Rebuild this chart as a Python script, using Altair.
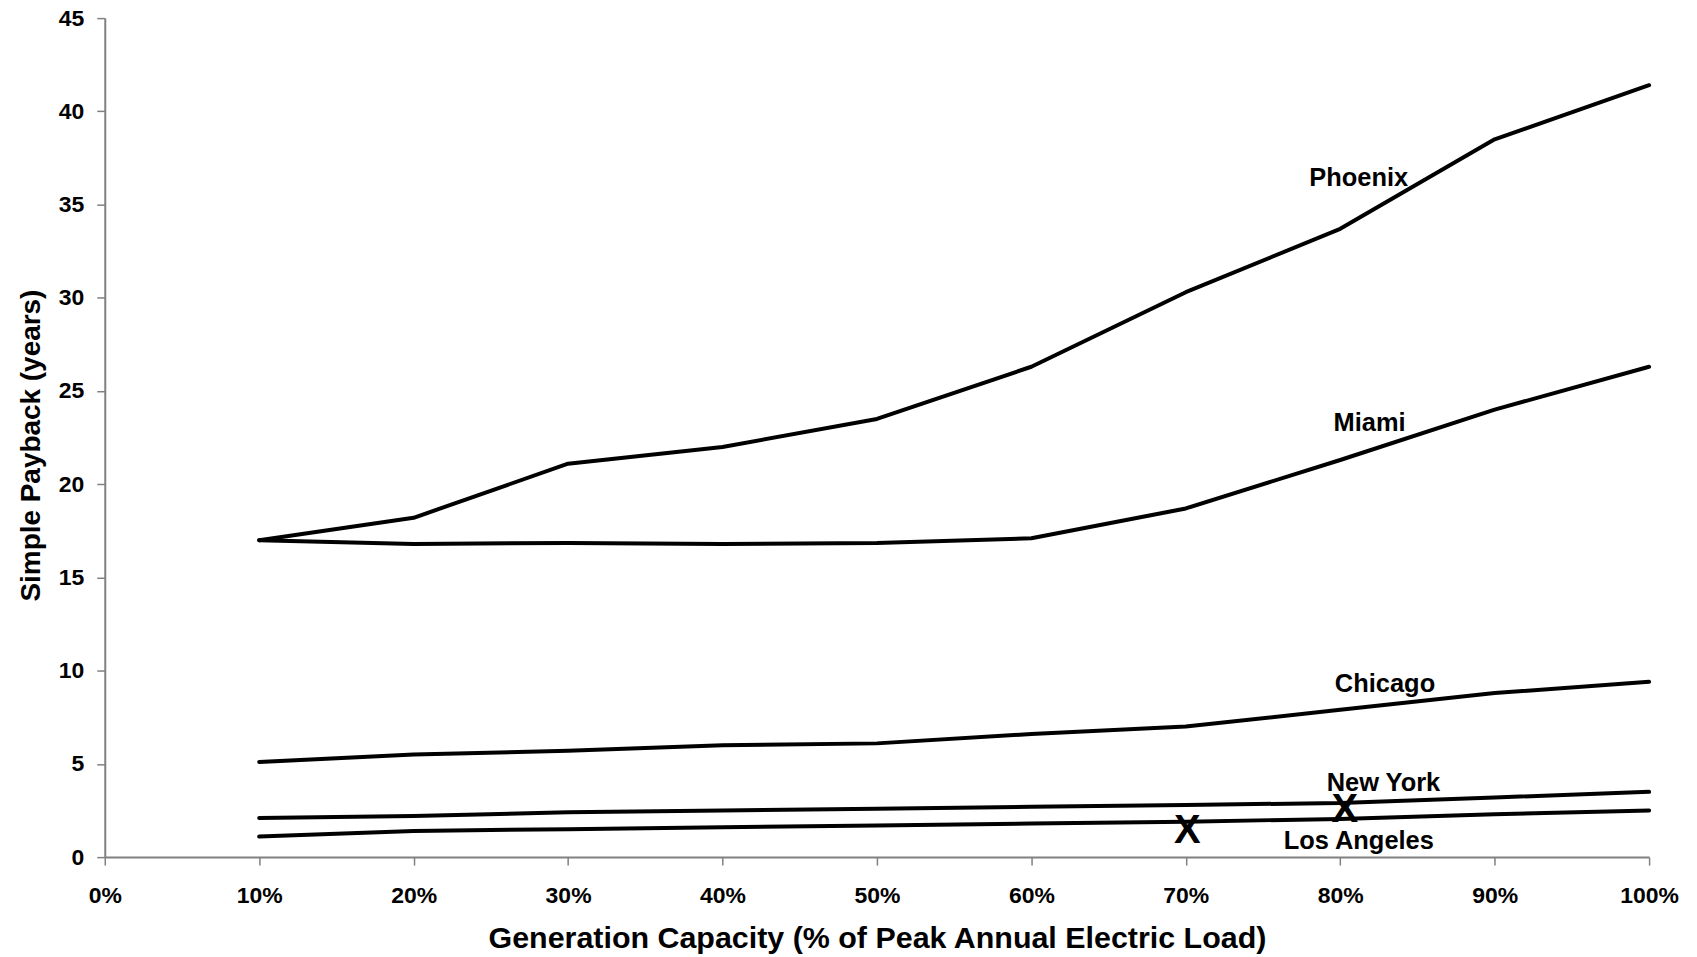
import altair as alt
import pandas as pd

# Data
capacity = [10, 20, 30, 40, 50, 60, 70, 80, 90, 100]
phoenix = [17.0, 18.2, 21.1, 22.0, 23.5, 26.3, 30.3, 33.7, 38.5, 41.4]
miami = [17.0, 16.8, 16.85, 16.8, 16.85, 17.1, 18.7, 21.3, 24.0, 26.3]
chicago = [5.1, 5.5, 5.7, 6.0, 6.1, 6.6, 7.0, 7.9, 8.8, 9.4]
new_york = [2.1, 2.2, 2.4, 2.5, 2.6, 2.7, 2.8, 2.9, 3.2, 3.5]
los_angeles = [1.1, 1.4, 1.5, 1.6, 1.7, 1.8, 1.9, 2.05, 2.3, 2.5]

cities = ["Phoenix", "Miami", "Chicago", "New York", "Los Angeles"]
series = [phoenix, miami, chicago, new_york, los_angeles]

# City label anchors (capacity %, payback years at text baseline)
label_x = [81.2, 81.9, 82.9, 82.8, 81.2]
label_y = [36.0, 22.85, 8.84, 3.55, 0.43]

# "X" markers (capacity %, payback years at text baseline)
marker_x = [70.1, 80.3]
marker_y = [0.75, 1.87]

rows = []
for city, vals in zip(cities, series):
    for c, v in zip(capacity, vals):
        rows.append({"city": city, "capacity": c, "payback": v})
df = pd.DataFrame(rows)
labels_df = pd.DataFrame({"city": cities, "x": label_x, "y": label_y})
markers_df = pd.DataFrame({"x": marker_x, "y": marker_y, "t": ["X", "X"]})

FONT = "Liberation Sans"
AXIS_GRAY = "#808080"

x_scale = alt.Scale(domain=[0, 100], nice=False, zero=True)
y_scale = alt.Scale(domain=[0, 45], nice=False)

x_axis = alt.Axis(
    title="Generation Capacity (% of Peak Annual Electric Load)",
    values=[0, 10, 20, 30, 40, 50, 60, 70, 80, 90, 100],
    labelExpr="datum.value + '%'",
    grid=False,
    domainColor=AXIS_GRAY, domainWidth=2,
    tickColor=AXIS_GRAY, tickWidth=1.5, tickSize=8,
    labelFont=FONT, labelFontSize=23, labelFontWeight="bold", labelColor="black",
    labelPadding=20, labelFlush=False,
    titleFont=FONT, titleFontSize=30.5, titleFontWeight="bold", titleColor="black",
    titleBaseline="alphabetic", titleY=91,
)
y_axis = alt.Axis(
    title="Simple Payback (years)",
    values=[0, 5, 10, 15, 20, 25, 30, 35, 40, 45],
    grid=False,
    domainColor=AXIS_GRAY, domainWidth=2,
    tickColor=AXIS_GRAY, tickWidth=1.5, tickSize=8,
    labelFont=FONT, labelFontSize=23, labelFontWeight="bold", labelColor="black",
    labelPadding=13,
    titleFont=FONT, titleFontSize=28, titleFontWeight="bold", titleColor="black",
    titleBaseline="alphabetic", titleX=-65, titleY=428, titleAngle=-90,
)

lines = alt.Chart(df).mark_line(color="black", strokeWidth=4, strokeJoin="round", strokeCap="round").encode(
    x=alt.X("capacity:Q", scale=x_scale, axis=x_axis),
    y=alt.Y("payback:Q", scale=y_scale, axis=y_axis),
    detail="city:N",
)

labels = alt.Chart(labels_df).mark_text(
    font=FONT, fontSize=25.5, fontWeight="bold", color="black", align="center", baseline="alphabetic"
).encode(
    x=alt.X("x:Q", scale=x_scale),
    y=alt.Y("y:Q", scale=y_scale),
    text="city:N",
)

markers = alt.Chart(markers_df).mark_text(
    font=FONT, fontSize=40, fontWeight="bold", color="black", align="center", baseline="alphabetic"
).encode(
    x=alt.X("x:Q", scale=x_scale),
    y=alt.Y("y:Q", scale=y_scale),
    text="t:N",
)

chart = alt.layer(lines, labels, markers).properties(
    width=1548,
    height=841,
    autosize=alt.AutoSizeParams(type="none"),
    padding={"left": 97, "top": 9, "right": 40, "bottom": 99},
    background="white",
).configure_view(stroke=None)

chart.save("out.html", embed_options={"renderer": "svg", "actions": False})
